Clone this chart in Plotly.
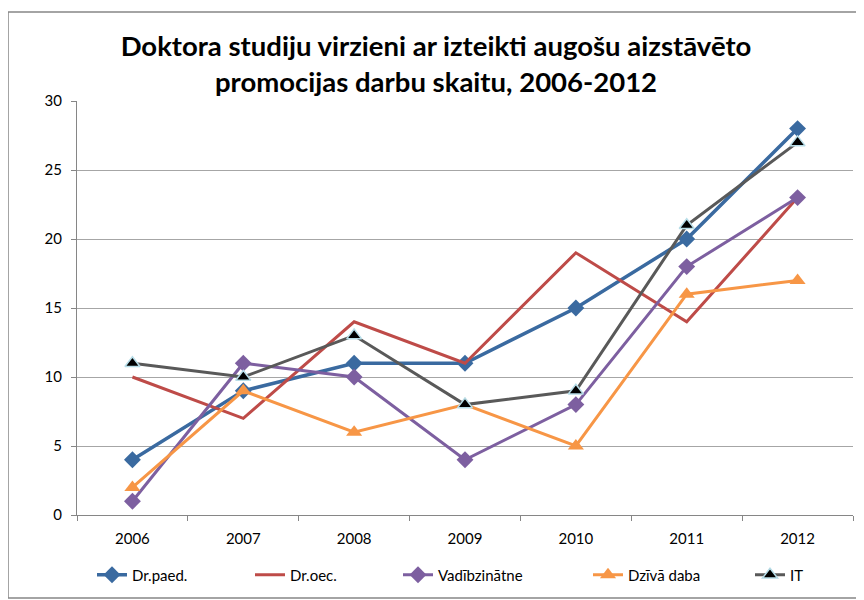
import plotly.graph_objects as go

years = ["2006", "2007", "2008", "2009", "2010", "2011", "2012"]
dr_paed = [4, 9, 11, 11, 15, 20, 28]
dr_oec = [10, 7, 14, 11, 19, 14, 23]
vadibzinatne = [1, 11, 10, 4, 8, 18, 23]
dziva_daba = [2, 9, 6, 8, 5, 16, 17]
it = [11, 10, 13, 8, 9, 21, 27]

W, H = 856, 592
L, R, T, B = 69, 11, 93, 85
PW, PH = W - L - R, H - T - B

def px(xp):
    return (xp - L) / PW

def py(yp):
    return (H - B - yp) / PH

fig = go.Figure()
fig.add_trace(go.Scatter(x=years, y=dr_paed, name="Dr.paed.", mode="lines+markers",
                         line=dict(color="#3A6AA0", width=3.5),
                         marker=dict(symbol="diamond", size=13, color="#3A6AA0"), legend="legend"))
fig.add_trace(go.Scatter(x=years, y=dr_oec, name="Dr.oec.", mode="lines",
                         line=dict(color="#BE4B48", width=3), legend="legend2"))
fig.add_trace(go.Scatter(x=years, y=vadibzinatne, name="Vadībzinātne", mode="lines+markers",
                         line=dict(color="#7D5FA0", width=3),
                         marker=dict(symbol="diamond", size=13, color="#7D5FA0"), legend="legend3"))
fig.add_trace(go.Scatter(x=years, y=dziva_daba, name="Dzīvā daba", mode="lines+markers",
                         line=dict(color="#F79646", width=3),
                         marker=dict(symbol="triangle-up", size=14, color="#F79646"), legend="legend4"))
fig.add_trace(go.Scatter(x=years, y=it, name="IT", mode="lines+markers",
                         line=dict(color="#595959", width=3),
                         marker=dict(symbol="triangle-up", size=13, color="#000000",
                                     line=dict(color="#B7DDE8", width=1.5)), legend="legend5"))

legend_x = [84, 242, 390, 580, 742]
leg_y = py(567)
legends = {}
for i, xl in enumerate(legend_x):
    key = "legend" if i == 0 else f"legend{i+1}"
    legends[key] = dict(orientation="h", x=px(xl), xanchor="left", y=leg_y, yanchor="middle",
                        font=dict(size=15), bgcolor="rgba(0,0,0,0)", itemwidth=30)

fig.update_layout(
    width=W, height=H,
    paper_bgcolor="white", plot_bgcolor="white",
    margin=dict(l=L, r=R, t=T, b=B, autoexpand=False),
    font=dict(family="Lato, Carlito, Arial", size=15, color="#000000"),
    title=dict(text="<b>Doktora studiju virzieni ar izteikti augošu aizstāvēto<br>promocijas darbu skaitu, 2006-2012</b>",
               x=0.5, xanchor="center", y=1 - 48 / H, yanchor="middle",
               font=dict(family="Lato, Carlito, Arial", size=27.5, color="#000000")),
    xaxis=dict(type="category", showgrid=False, showline=True, linecolor="#868686", linewidth=1,
               ticks="outside", ticklen=5, tickcolor="#868686", tickson="boundaries",
               tickfont=dict(size=15), range=[-0.5, 6.5], automargin=False, ticklabelstandoff=10),
    yaxis=dict(range=[0, 30], dtick=5, showgrid=True, gridcolor="#A6A6A6", gridwidth=1,
               showline=True, linecolor="#868686", linewidth=1, ticks="outside", ticklen=5,
               tickcolor="#868686", zeroline=False, tickfont=dict(size=15), automargin=False,
               ticklabelstandoff=6),
    showlegend=True,
    **legends,
)

fig.add_shape(type="rect", xref="paper", yref="paper",
              x0=px(0), x1=px(854), y0=py(590), y1=py(4),
              line=dict(color="#868686", width=1.5), fillcolor="rgba(0,0,0,0)", layer="below")

fig.write_html("out.html")
